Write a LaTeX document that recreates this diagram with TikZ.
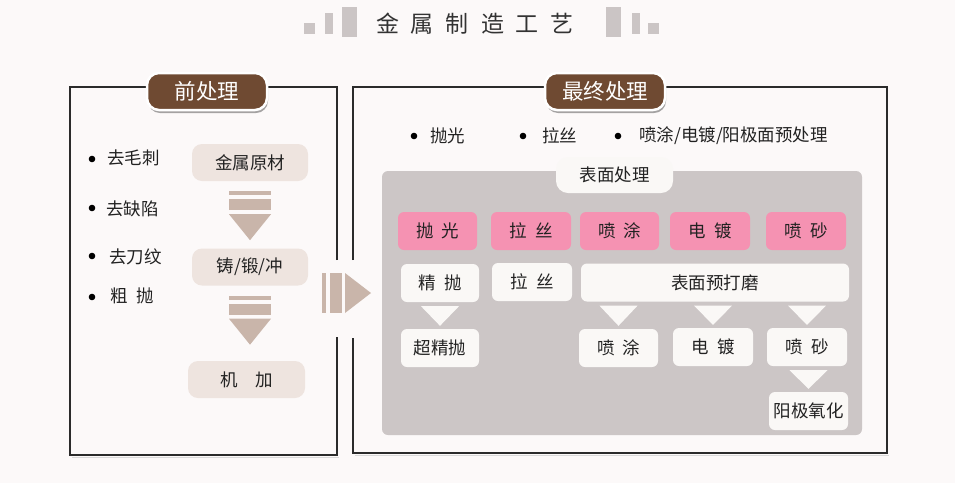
\documentclass[tikz,border=0pt]{standalone}
\usepackage{fontspec}
\setmainfont{Noto Sans CJK SC}
\usetikzlibrary{calc,shadows}
\definecolor{bgc}{HTML}{FCF9F9}
\definecolor{frame}{HTML}{2B2B2B}
\definecolor{brownc}{HTML}{6F4A32}
\definecolor{beige}{HTML}{EEE4DF}
\definecolor{tan}{HTML}{C9B5AA}
\definecolor{greyarea}{HTML}{CCC6C6}
\definecolor{pinkc}{HTML}{F592B2}
\definecolor{offwhite}{HTML}{FAF8F6}
\definecolor{deco}{HTML}{CBC5C5}
\definecolor{ink}{HTML}{222222}
\tikzset{
  txt/.style={font=\fontsize{17.5}{20}\selectfont, text=ink, inner sep=0pt},
  brownlabel/.style={fill=brownc, draw=white, line width=2.5pt, rounded corners=12pt,
    text=white, font=\fontsize{21.5}{24}\selectfont, minimum width=120, minimum height=37,
    inner sep=0pt, drop shadow={shadow xshift=1pt, shadow yshift=-3pt, opacity=0.35, fill=black}},
  beigebox/.style={txt, fill=beige, rounded corners=10pt, minimum width=116, minimum height=37},
  pinkbox/.style={txt, fill=pinkc, rounded corners=6pt, minimum width=79, minimum height=38},
  whitebox/.style={txt, fill=offwhite, rounded corners=6pt, minimum width=79, minimum height=38},
  panelline/.style={draw=frame, line width=1.3pt},
  shadowline/.style={draw=black!15, line width=1.5pt},
}
% stacked downward arrow (bars + triangle) between two nodes
\newcommand\stackarrow[2]{%
  \path (#1.south) ++(0,10) coordinate (t);
  \fill[tan] ($(t)+(-21,0)$) rectangle ($(t)+(21,4)$);
  \fill[tan] ($(t)+(-21,8)$) rectangle ($(t)+(21,19)$);
  \fill[tan] ($(t)+(-21,23)$) -- ($(t)+(21,23)$) -- ($(t)+(0,49)$) -- cycle;
}
% white triangle from node #1 down to node #2
\newcommand\whitetri[2]{%
  \path (#2.north |- #1.south) ++(0,4) coordinate (t);
  \path (#2.north) ++(0,-3) coordinate (b);
  \fill[offwhite] ($(t)+(-19,0)$) -- ($(t)+(19,0)$) -- (b) -- cycle;
}
\begin{document}
\begin{tikzpicture}[x=1pt,y=-1pt]
\useasboundingbox (0,0) rectangle (955,483);
\fill[bgc] (0,0) rectangle (955,483);

% title
\node[font=\fontsize{23}{26}\selectfont, text=black!80, inner sep=0pt] (title) at (475,24)
  {金\hspace{12pt}属\hspace{12pt}制\hspace{12pt}造\hspace{12pt}工\hspace{12pt}艺};
\fill[deco] (304,23) rectangle (315,34);
\fill[deco] (325,13) rectangle (333,34);
\fill[deco] (342,7) rectangle (357,37);
\fill[deco] (606,7) rectangle (621,37);
\fill[deco] (632,13) rectangle (640,34);
\fill[deco] (648,23) rectangle (659,34);

% left panel frame
\draw[shadowline] (72,457.5) -- (339,457.5);
\draw[panelline] (337,260) -- (337,87) -- (70,87) -- (70,455) -- (337,455) -- (337,337);
% right panel frame
\draw[shadowline] (355,455.5) -- (889,455.5);
\draw[panelline] (353,260) -- (353,87) -- (887,87) -- (887,453) -- (353,453) -- (353,338);

% panel labels
\node[brownlabel] (pre) at (207,91.5) {前处理};
\node[brownlabel] (fin) at (605,91.5) {最终处理};

% big arrow between panels
\fill[tan] (322,273) rectangle (326,313);
\fill[tan] (330,273) rectangle (342,313);
\fill[tan] (345,273) -- (371,293) -- (345,313) -- cycle;

% left bullets
\fill[black] (92,159) circle (3.3);
\fill[black] (92,208) circle (3.3);
\fill[black] (92,256) circle (3.3);
\fill[black] (92,297) circle (3.3);
\node[txt, anchor=west] (b1) at (107,158) {去毛刺};
\node[txt, anchor=west] (b2) at (106,209) {去缺陷};
\node[txt, anchor=west] (b3) at (109,257) {去刀纹};
\node[txt, anchor=west] (b4) at (110,296) {粗\hspace{9pt}抛};

% left flow
\node[beigebox] (raw) at (250,162.5) {金属原材};
\node[beigebox] (cast) at (250,267) {铸/锻/冲};
\node[beigebox, minimum width=117] (mach) at (246.5,379.5) {机\hspace{18pt}加};
\stackarrow{raw}{cast}
\stackarrow{cast}{mach}

% right bullets
\fill[black] (414,136) circle (3.3);
\fill[black] (523,136) circle (3.3);
\fill[black] (618,136) circle (3.3);
\node[txt, anchor=west] (r1) at (430,136) {抛光};
\node[txt, anchor=west] (r2) at (542,136) {拉丝};
\node[txt, anchor=west] (r3) at (639,136) {喷涂/电镀/阳极面预处理};

% surface treatment area
\fill[greyarea, rounded corners=6pt] (382,171) rectangle (862,435);
\node[txt, fill=offwhite, rounded corners=12pt, minimum width=117, minimum height=36] (surf) at (614.5,175) {表面处理};

% pink row
\node[pinkbox] (p1) at (437.5,231) {抛\hspace{8pt}光};
\node[pinkbox, minimum width=80] (p2) at (531,231) {拉\hspace{8pt}丝};
\node[pinkbox] (p3) at (619.5,231) {喷\hspace{8pt}涂};
\node[pinkbox, minimum width=80] (p4) at (710,231) {电\hspace{8pt}镀};
\node[pinkbox, minimum width=80] (p5) at (806,231) {喷\hspace{8pt}砂};

% second row
\node[whitebox, minimum width=78] (w1) at (440,283) {精\hspace{8pt}抛};
\node[whitebox, minimum width=80] (w2) at (532,282) {拉\hspace{8pt}丝};
\node[whitebox, minimum width=268] (w3) at (715,282.5) {表面预打磨};

% third row
\node[whitebox, minimum width=78] (x1) at (440,348) {超精抛};
\node[whitebox] (x3) at (618.5,348) {喷\hspace{8pt}涂};
\node[whitebox, minimum width=80] (x4) at (713,347) {电\hspace{8pt}镀};
\node[whitebox, minimum width=80] (x5) at (807,347) {喷\hspace{8pt}砂};
\node[whitebox] (y5) at (808.5,411) {阳极氧化};

\whitetri{w1}{x1}
\whitetri{w3}{x3}
\whitetri{w3}{x4}
\whitetri{w3}{x5}
\whitetri{x5}{y5}
\end{tikzpicture}
\end{document}
